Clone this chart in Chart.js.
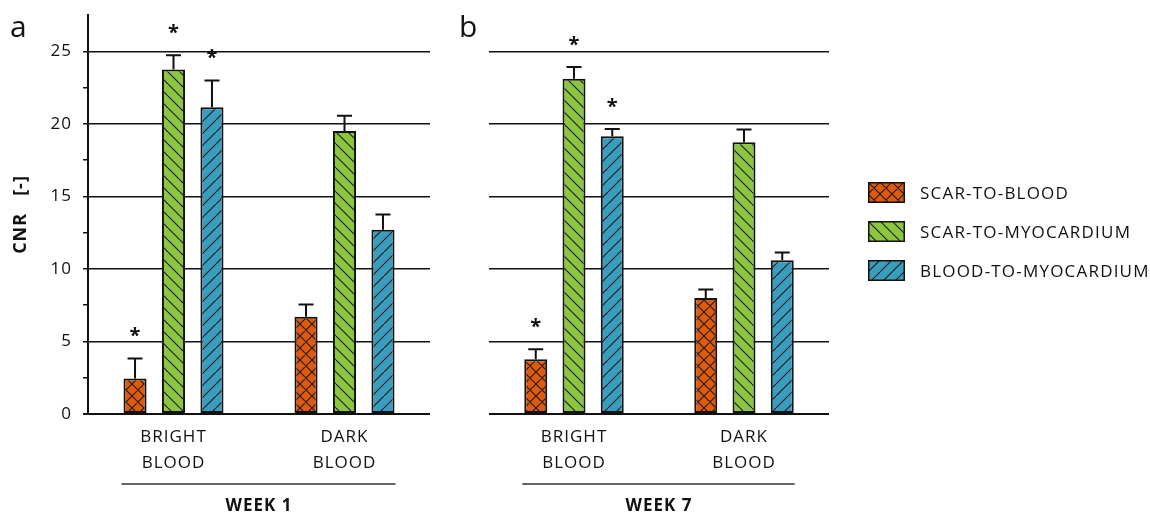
<!DOCTYPE html>
<html>
<head>
<meta charset="utf-8">
<script src="https://cdn.jsdelivr.net/npm/chart.js@4.4.1/dist/chart.umd.min.js"></script>
<style>
  body { margin: 0; background: #fff; width: 1150px; height: 513px; position: relative; overflow: hidden; font-family: "Open Sans", sans-serif; color: #111; }
  canvas.panel { position: absolute; top: 0; }
  #chartA { left: 0; }
  #chartB { left: 440px; }
  .letter { position: absolute; font-size: 30px; line-height: 30px; }
  #legend { position: absolute; left: 868px; top: 182px; width: 282px; }
  .item { display: flex; align-items: center; height: 21px; margin-bottom: 18px; font-size: 17px; letter-spacing: 1.2px; white-space: nowrap; }
  .item canvas { margin-right: 15px; flex: none; }
</style>
</head>
<body>
<canvas id="chartA" class="panel" width="440" height="513"></canvas>
<canvas id="chartB" class="panel" width="400" height="513"></canvas>
<div class="letter" style="left:10px;top:11px">a</div>
<div class="letter" style="left:459px;top:11px">b</div>
<div id="legend"></div>
<script>
// categories / series
const categories = [['BRIGHT', 'BLOOD'], ['DARK', 'BLOOD']];
const seriesLabels = ['SCAR-TO-BLOOD', 'SCAR-TO-MYOCARDIUM', 'BLOOD-TO-MYOCARDIUM'];
const weekTitles = ['WEEK 1', 'WEEK 7'];
const yMajorTicks = [0, 5, 10, 15, 20, 25];
const yMinorTicks = [2.5, 7.5, 12.5, 17.5, 22.5];
const yMax = 27.5;

// week 1 (panel a): mean and error (bright blood, dark blood)
const w1ScarBlood = [2.45, 6.7];
const w1ScarMyo = [23.75, 19.5];
const w1BloodMyo = [21.15, 12.7];
const w1ScarBloodErr = [1.38, 0.85];
const w1ScarMyoErr = [0.97, 1.06];
const w1BloodMyoErr = [1.84, 1.05];
const w1ScarBloodSig = [true, false];
const w1ScarMyoSig = [true, false];
const w1BloodMyoSig = [true, false];

// week 7 (panel b)
const w7ScarBlood = [3.78, 8.0];
const w7ScarMyo = [23.1, 18.73];
const w7BloodMyo = [19.14, 10.6];
const w7ScarBloodErr = [0.69, 0.58];
const w7ScarMyoErr = [0.82, 0.87];
const w7BloodMyoErr = [0.51, 0.53];
const w7ScarBloodSig = [true, false];
const w7ScarMyoSig = [true, false];
const w7BloodMyoSig = [true, false];

const ink = '#111';
const fillColors = ['#e05a0c', '#8cc63f', '#3a9dbe'];
const hatchKinds = ['cross', 'back', 'fwd'];
const hatchSizes = [12, 12, 12];

// hatched fill for the bars
function hatch(color, kind, s) {
  const c = document.createElement('canvas');
  c.width = c.height = s;
  const g = c.getContext('2d');
  g.fillStyle = color;
  g.fillRect(0, 0, s, s);
  g.strokeStyle = '#1a1a1a';
  g.lineWidth = 1.1;
  g.beginPath();
  for (const k of [-s, 0, s]) {
    if (kind === 'back' || kind === 'cross') { g.moveTo(k, 0); g.lineTo(k + s, s); }
    if (kind === 'fwd' || kind === 'cross') { g.moveTo(k, s); g.lineTo(k + s, 0); }
  }
  g.stroke();
  return g.createPattern(c, 'repeat');
}
const patterns = fillColors.map((c, i) => hatch(c, hatchKinds[i], hatchSizes[i]));

// error bars, asterisks and the group line under the categories
const annotate = {
  id: 'annotate',
  beforeDraw(chart) { chart.ctx.letterSpacing = '1px'; },
  afterDatasetsDraw(chart) {
    const { ctx, scales: { y } } = chart;
    ctx.save();
    ctx.letterSpacing = '0px';
    ctx.strokeStyle = ink;
    ctx.fillStyle = ink;
    ctx.lineWidth = 2;
    ctx.font = 'bold 20px "Open Sans"';
    ctx.textAlign = 'center';
    ctx.textBaseline = 'alphabetic';
    const m = ctx.measureText('*');
    chart.data.datasets.forEach((ds, i) => {
      chart.getDatasetMeta(i).data.forEach((bar, j) => {
        const top = y.getPixelForValue(ds.data[j] + ds.errors[j]);
        ctx.beginPath();
        ctx.moveTo(bar.x, bar.y);
        ctx.lineTo(bar.x, top);
        ctx.moveTo(bar.x - 7.5, top);
        ctx.lineTo(bar.x + 7.5, top);
        ctx.stroke();
        if (ds.stars[j]) {
          const cy = top - 26;
          ctx.fillText('*', bar.x, cy + (m.actualBoundingBoxAscent - m.actualBoundingBoxDescent) / 2);
        }
      });
    });
    const first = chart.getDatasetMeta(0).data[0];
    const last = chart.getDatasetMeta(2).data[1];
    const ly = chart.chartArea.bottom + 70;
    ctx.strokeStyle = '#333';
    ctx.lineWidth = 1.5;
    ctx.beginPath();
    ctx.moveTo(first.x - first.width / 2 - 2, ly);
    ctx.lineTo(last.x + last.width / 2 + 1, ly);
    ctx.stroke();
    ctx.restore();
  }
};

function makePanel(id, week, series, errs, sigs, showAxis, padLeft, padRight) {
  const font = { family: 'Open Sans', size: 17 };
  return new Chart(document.getElementById(id), {
    type: 'bar',
    data: {
      labels: categories,
      datasets: series.map((d, i) => ({
        label: seriesLabels[i],
        data: d,
        errors: errs[i],
        stars: sigs[i],
        backgroundColor: patterns[i],
        borderColor: ink,
        borderWidth: 2,
        borderSkipped: false,
        categoryPercentage: 0.675,
        barPercentage: 0.6
      }))
    },
    options: {
      responsive: false,
      animation: false,
      layout: { padding: { left: padLeft, right: padRight, top: 15, bottom: 0 } },
      plugins: { legend: { display: false }, tooltip: { enabled: false } },
      scales: {
        x: {
          grid: { display: false, drawTicks: false },
          border: { display: false },
          ticks: { font: { family: 'Open Sans', size: 17, lineHeight: 1.53 }, color: ink, padding: 10, maxRotation: 0, autoSkip: false },
          title: { display: true, text: week, color: ink, font: { family: 'Open Sans', size: 17, weight: 'bold' }, padding: { top: 0, bottom: -3 } },
          afterFit: s => { s.height = 99; s.paddingLeft = 0; s.paddingRight = 0; }
        },
        y: {
          min: 0,
          max: yMax,
          afterBuildTicks: s => {
            s.ticks = yMajorTicks.concat(yMinorTicks).sort((a, b) => a - b).map(v => ({ value: v }));
          },
          ticks: {
            display: showAxis, font: font, color: ink, padding: 11,
            callback: v => yMajorTicks.includes(v) ? String(v) : ''
          },
          grid: {
            color: c => yMajorTicks.includes(c.tick.value) ? ink : 'rgba(0,0,0,0)',
            lineWidth: c => c.tick.value === 0 ? 2 : 1.5,
            drawTicks: showAxis,
            tickLength: 5,
            tickColor: ink
          },
          border: { display: showAxis, color: ink, width: 2 },
          title: {
            display: showAxis, text: 'CNR   [-]', color: ink,
            font: { family: 'Open Sans', size: 18, weight: 'bold' },
            padding: { top: 9.7, bottom: 0 }
          },
          afterFit: s => { s.width = showAxis ? 88 : 0; s.paddingTop = 0; s.paddingBottom = 0; }
        }
      }
    },
    plugins: [annotate]
  });
}

makePanel('chartA', weekTitles[0],
  [w1ScarBlood, w1ScarMyo, w1BloodMyo],
  [w1ScarBloodErr, w1ScarMyoErr, w1BloodMyoErr],
  [w1ScarBloodSig, w1ScarMyoSig, w1BloodMyoSig], true, 0, 10);

makePanel('chartB', weekTitles[1],
  [w7ScarBlood, w7ScarMyo, w7BloodMyo],
  [w7ScarBloodErr, w7ScarMyoErr, w7BloodMyoErr],
  [w7ScarBloodSig, w7ScarMyoSig, w7BloodMyoSig], false, 49, 11);

// legend
const legend = document.getElementById('legend');
seriesLabels.forEach((name, i) => {
  const row = document.createElement('div');
  row.className = 'item';
  const sw = document.createElement('canvas');
  sw.width = 37; sw.height = 21;
  const g = sw.getContext('2d');
  g.fillStyle = patterns[i];
  g.fillRect(0, 0, 37, 21);
  g.strokeStyle = ink;
  g.lineWidth = 1.5;
  g.strokeRect(0.75, 0.75, 35.5, 19.5);
  row.appendChild(sw);
  const t = document.createElement('span');
  t.textContent = name;
  row.appendChild(t);
  legend.appendChild(row);
});
</script>
</body>
</html>
